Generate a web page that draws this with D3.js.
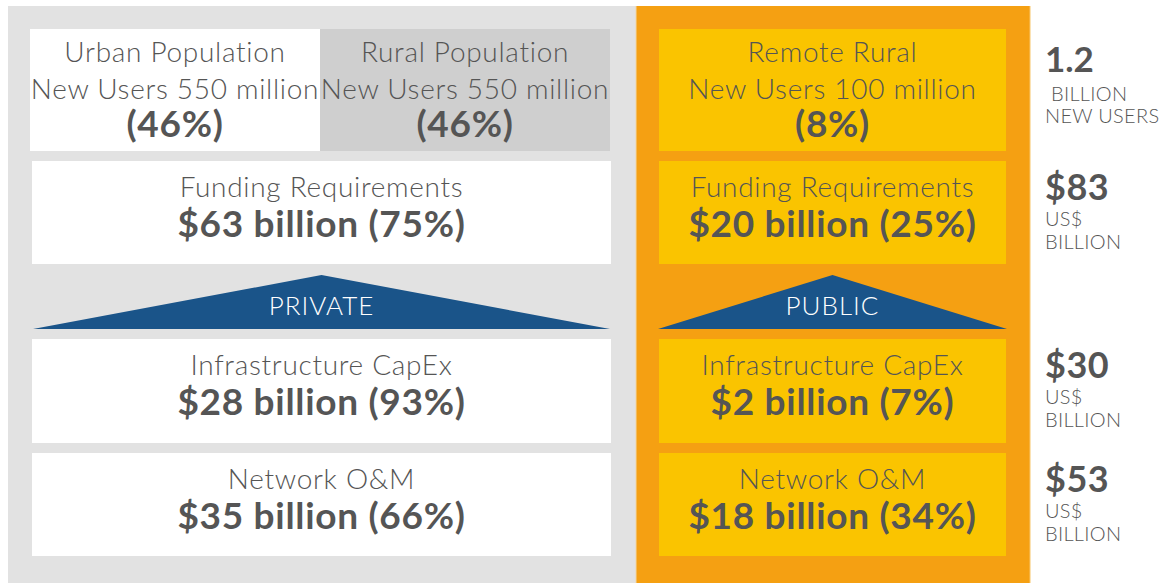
<!DOCTYPE html>
<html>
<head>
<meta charset="utf-8">
<script src="https://cdn.jsdelivr.net/npm/d3@7"></script>
<style>
  body { margin: 0; background: #fff; }
  text { font-family: Lato, "Open Sans", sans-serif; fill: #555; }
  .light { font-weight: 300; letter-spacing: 0.7px; }
  .bold { font-weight: 700; letter-spacing: 0.7px; }
</style>
</head>
<body>
<div id="chart"></div>
<script>
// population groups (top row)
var groups = ['Urban Population', 'Rural Population', 'Remote Rural'];
var newUsers = [550, 550, 100];      // million
var userShare = [46, 46, 8];         // %
var totalUsers = 1.2;                // billion

// cost rows
var costRows = ['Funding Requirements', 'Infrastructure CapEx', 'Network O&M'];
var privateCost = [63, 28, 35];      // US$ billion
var privateShare = [75, 93, 66];
var publicCost = [20, 2, 18];
var publicShare = [25, 7, 34];
var totalCost = [83, 30, 53];

var sectors = ['PRIVATE', 'PUBLIC'];

var width = 1171,
  height = 583;

var svg = d3.select('#chart')
  .append('svg')
  .attr('width', width)
  .attr('height', height);

// layout
var rowKeys = ['users', 'Funding Requirements', 'sector', 'Infrastructure CapEx', 'Network O&M'];
var rowTop = d3.scaleOrdinal().domain(rowKeys).range([29, 161, 275, 339, 453]);
var rowHeight = d3.scaleOrdinal().domain(rowKeys).range([122, 103, 54, 104, 103]);

var sideX = d3.scaleOrdinal().domain(sectors).range([32, 659]);
var sideW = d3.scaleOrdinal().domain(sectors).range([579, 347]);
var groupX = d3.scaleOrdinal().domain(groups).range([30, 320, 659]);
var groupW = d3.scaleOrdinal().domain(groups).range([290, 290, 347]);
var groupFill = d3.scaleOrdinal().domain(groups).range(['#ffffff', '#cfcfcf', '#fac400']);
var sideFill = d3.scaleOrdinal().domain(sectors).range(['#ffffff', '#fac400']);

// background panels
svg.append('rect').attr('x', 8).attr('y', 6).attr('width', 628).attr('height', 577).attr('fill', '#e2e2e2');
svg.append('rect').attr('x', 636).attr('y', 6).attr('width', 394).attr('height', 577).attr('fill', '#f5a012');
svg.append('line').attr('x1', 636).attr('x2', 636).attr('y1', 6).attr('y2', 583)
  .attr('stroke', '#f2d7a8').attr('stroke-width', 1);
svg.append('line').attr('x1', 1030).attr('x2', 1030).attr('y1', 6).attr('y2', 583)
  .attr('stroke', '#f8c66a').attr('stroke-width', 1);

// top row: population groups
var g = svg.selectAll('.group')
  .data(groups)
  .enter()
  .append('g')
  .attr('class', 'group');

g.append('rect')
  .attr('x', function(d) { return groupX(d); })
  .attr('y', rowTop('users'))
  .attr('width', function(d) { return groupW(d); })
  .attr('height', rowHeight('users'))
  .attr('fill', function(d) { return groupFill(d); });

var cx = function(d) { return groupX(d) + groupW(d) / 2; };

g.append('text')
  .attr('class', 'light')
  .attr('x', cx)
  .attr('y', rowTop('users') + 33)
  .attr('text-anchor', 'middle')
  .attr('font-size', 28)
  .text(function(d) { return d; });

g.append('text')
  .attr('class', 'light')
  .attr('x', cx)
  .attr('y', rowTop('users') + 70)
  .attr('text-anchor', 'middle')
  .attr('font-size', 28)
  .text(function(d, i) { return 'New Users ' + newUsers[i] + ' million'; });

g.append('text')
  .attr('class', 'bold')
  .attr('x', cx)
  .attr('y', rowTop('users') + 108)
  .attr('text-anchor', 'middle')
  .attr('font-size', 37)
  .text(function(d, i) { return '(' + userShare[i] + '%)'; });

// cost rows
sectors.forEach(function(s, si) {
  var cost = si === 0 ? privateCost : publicCost,
    share = si === 0 ? privateShare : publicShare;

  var cg = svg.selectAll('.cost-' + si)
    .data(costRows)
    .enter()
    .append('g')
    .attr('class', 'cost-' + si);

  cg.append('rect')
    .attr('x', sideX(s))
    .attr('y', function(d) { return rowTop(d); })
    .attr('width', sideW(s))
    .attr('height', function(d) { return rowHeight(d); })
    .attr('fill', sideFill(s));

  cg.append('text')
    .attr('class', 'light')
    .attr('x', sideX(s) + sideW(s) / 2)
    .attr('y', function(d) { return rowTop(d) + 36; })
    .attr('text-anchor', 'middle')
    .attr('font-size', 28)
    .text(function(d) { return d; });

  cg.append('text')
    .attr('class', 'bold')
    .attr('x', sideX(s) + sideW(s) / 2)
    .attr('y', function(d) { return rowTop(d) + 76; })
    .attr('text-anchor', 'middle')
    .attr('font-size', 37)
    .text(function(d, i) { return '$' + cost[i] + ' billion (' + share[i] + '%)'; });

  // roof shaped sector label
  var top = rowTop('sector'),
    bot = top + rowHeight('sector'),
    x0 = sideX(s) + 1,
    x1 = sideX(s) + sideW(s) - 1,
    mid = (x0 + x1) / 2;
  if (si === 1) { x0 -= 2; x1 += 2; }
  svg.append('path')
    .attr('d', d3.line()([[x0, bot], [mid, top], [x1, bot]]) + 'Z')
    .attr('fill', '#1a5489');
  svg.append('text')
    .attr('class', 'light')
    .attr('x', mid)
    .attr('y', bot - 14)
    .attr('text-anchor', 'middle')
    .attr('font-size', 26)
    .style('fill', '#fff')
    .style('letter-spacing', '1px')
    .text(s);
});

// totals column
var tx = 1045;
svg.append('text').attr('class', 'bold').attr('x', tx).attr('y', 72)
  .attr('font-size', 35).style('letter-spacing', '0px').text(d3.format('.1f')(totalUsers));
svg.append('text').attr('class', 'light').attr('x', tx + 6).attr('y', 101)
  .attr('font-size', 20).style('letter-spacing', '0.3px').text('BILLION');
svg.append('text').attr('class', 'light').attr('x', tx).attr('y', 123)
  .attr('font-size', 20).style('letter-spacing', '0.3px').text('NEW USERS');

var tg = svg.selectAll('.total')
  .data(costRows)
  .enter()
  .append('g')
  .attr('class', 'total');

tg.append('text')
  .attr('class', 'bold')
  .attr('x', tx)
  .attr('y', function(d) { return rowTop(d) + 39; })
  .attr('font-size', 36)
  .style('letter-spacing', '0.5px')
  .text(function(d, i) { return '$' + totalCost[i]; });
tg.append('text')
  .attr('class', 'light')
  .attr('x', tx)
  .attr('y', function(d) { return rowTop(d) + 65; })
  .attr('font-size', 20)
  .style('letter-spacing', '0.3px')
  .text('US$');
tg.append('text')
  .attr('class', 'light')
  .attr('x', tx)
  .attr('y', function(d) { return rowTop(d) + 88; })
  .attr('font-size', 20)
  .style('letter-spacing', '0.3px')
  .text('BILLION');
</script>
</body>
</html>
